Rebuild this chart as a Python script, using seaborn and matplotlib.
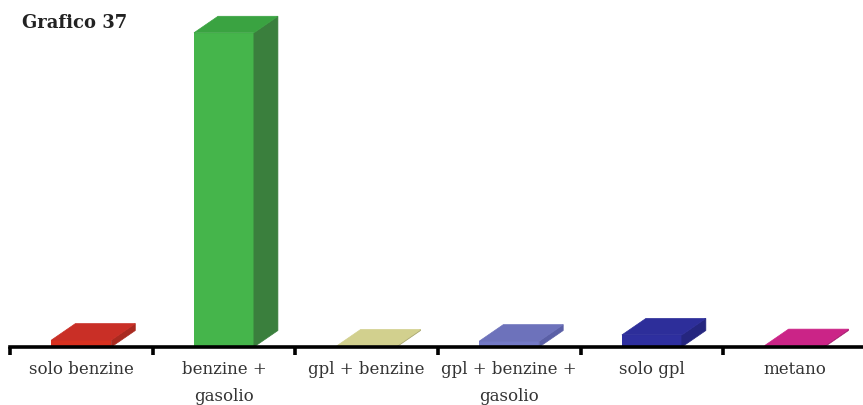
import numpy as np
import pandas as pd
import seaborn as sns
import matplotlib.pyplot as plt
from matplotlib.patches import Polygon

categories = ['solo benzine', 'benzine +\ngasolio', 'gpl + benzine',
              'gpl + benzine +\ngasolio', 'solo gpl', 'metano']
values = [2.0, 91.1, 0.3, 1.7, 3.5, 0.4]
front_colors = ['#d8301f', '#45b54b', '#cfcd8c', '#7379c6', '#2e2f9f', '#cf2389']
top_colors = ['#c92f26', '#3aa341', '#d2d08e', '#6d72bb', '#2d2e9a', '#cb2487']
side_colors = ['#a92a20', '#3a7f3d', '#a9a76f', '#5a5fa6', '#25267f', '#a81c70']

sns.set_style('white')
plt.rcParams['font.family'] = ['DejaVu Serif', 'Liberation Serif']

W, H = 863, 405
fig = plt.figure(figsize=(W / 100, H / 100), dpi=100)
ax = fig.add_axes([10 / W, (H - 347) / H, (W - 10) / W, 347 / H])

df = pd.DataFrame({'fuel': categories, 'value': values})
sns.barplot(data=df, x='fuel', y='value', hue='fuel', palette=front_colors,
            legend=False, width=0.42, saturation=1, linewidth=0, ax=ax)
ax.set_xlim(-0.5, 5.48)
ax.set_ylim(0, 100.6)

# fake 3d: side and top faces built off each bar, depth given in pixels
dx = 24 * (ax.get_xlim()[1] - ax.get_xlim()[0]) / (W - 10)
dy = 16.5 * 100.6 / 347
for bar, top_c, side_c in zip(ax.patches, top_colors, side_colors):
    x0 = bar.get_x()
    x1 = x0 + bar.get_width()
    h = bar.get_height()
    ax.add_patch(Polygon([(x1, 0), (x1 + dx, dy), (x1 + dx, h + dy), (x1, h)],
                         closed=True, fc=side_c, ec=side_c, lw=0.5, zorder=2, clip_on=False))
    ax.add_patch(Polygon([(x0, h), (x0 + dx, h + dy), (x1 + dx, h + dy), (x1, h)],
                         closed=True, fc=top_c, ec=top_c, lw=0.5, zorder=2, clip_on=False))

sns.despine(ax=ax, left=True)
ax.spines['bottom'].set_linewidth(2.6)
ax.spines['bottom'].set_color('black')
ax.spines['bottom'].set_zorder(5)
ax.set_xlabel('')
ax.set_ylabel('')
ax.set_yticks([])

positions = np.arange(len(categories))
ax.set_xticks(positions - 0.5)
ax.set_xticklabels([])
ax.tick_params(axis='x', which='major', bottom=True, length=6, width=2.6, color='black')
ax.set_xticks(positions, minor=True)
ax.set_xticklabels(categories, minor=True, fontsize=12, color='#333333', linespacing=1.75)
ax.tick_params(axis='x', which='minor', bottom=False, length=0, pad=10)

fig.text(22 / W, 1 - 23 / H, 'Grafico 37', fontsize=13, fontweight='bold',
         color='#222222', va='center', ha='left')

fig.savefig('out.png', dpi=100, facecolor='white')
